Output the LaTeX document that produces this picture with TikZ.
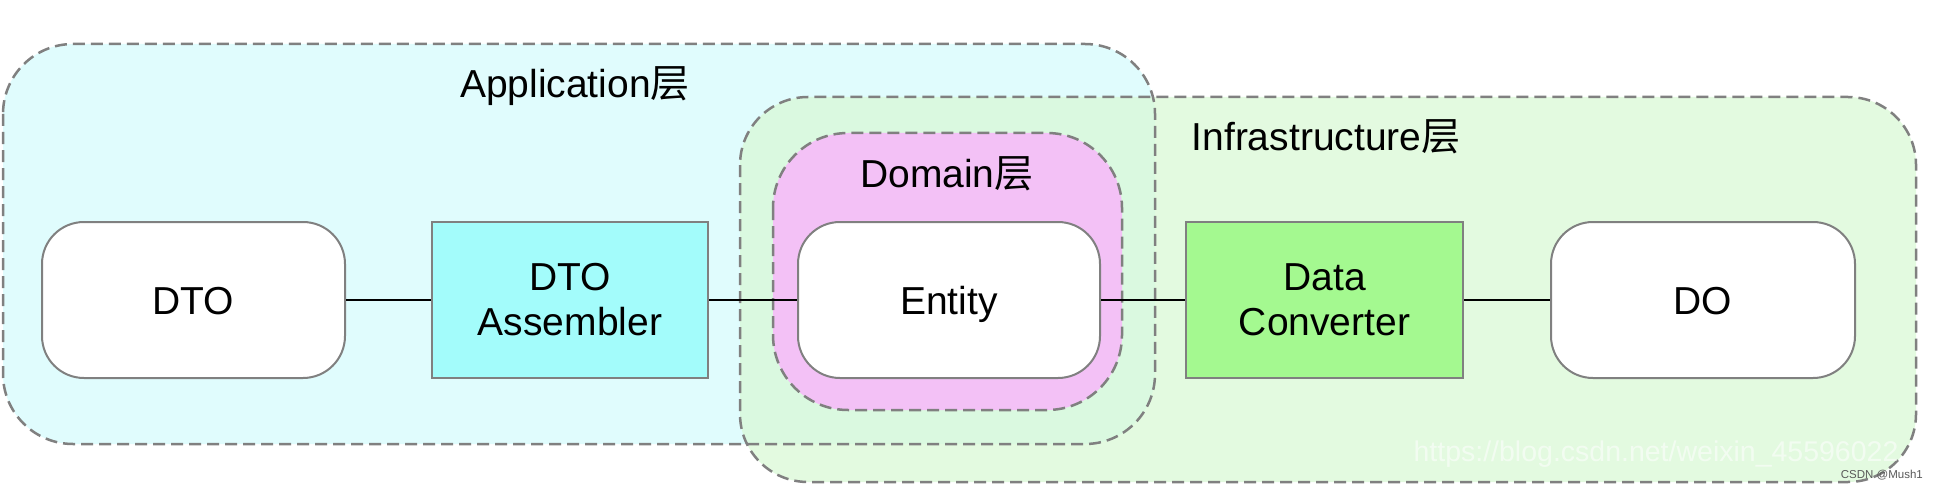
\documentclass[tikz,border=0pt]{standalone}
\usepackage{fontspec}
\setmainfont{Liberation Sans}
\newfontfamily\cjk{Noto Sans CJK SC}
\definecolor{appfill}{HTML}{E0FCFD}
\definecolor{infrafill}{HTML}{D8F9D4}
\definecolor{domfill}{HTML}{F3C1F6}
\definecolor{asmfill}{HTML}{A3FCFB}
\definecolor{convfill}{HTML}{A4F990}
\definecolor{bordergray}{HTML}{808080}
\begin{document}
\begin{tikzpicture}[x=1pt,y=-1pt,
  layer/.style={draw=bordergray, line width=2.5pt, dash pattern=on 12pt off 6pt},
  item/.style={draw=bordergray, line width=2pt, minimum height=156pt, align=center, font=\fontsize{39}{45}\selectfont, inner sep=0pt},
  rounditem/.style={item, rounded corners=42pt, fill=white, minimum width=303pt, text depth=0pt, text height=28pt},
  squareitem/.style={item, minimum width=276pt},
  lbl/.style={font=\fontsize{39}{45}\selectfont, anchor=base, inner sep=0pt},
  link/.style={line width=2pt, black}
]
\useasboundingbox (0,0) rectangle (1940,484);
\fill[white] (0,0) rectangle (1940,484);
% layer fills
\fill[appfill, rounded corners=70pt] (3,44) rectangle (1155,444);
\fill[infrafill, fill opacity=0.7, rounded corners=68pt] (740,97) rectangle (1916,482);
% layer borders
\draw[layer, rounded corners=70pt] (3,44) rectangle (1155,444);
\draw[layer, rounded corners=68pt] (740,97) rectangle (1916,482);
% domain layer
\draw[layer, fill=domfill, rounded corners=75pt] (773,133) rectangle (1122,410);
% labels
\node[lbl] (applbl) at (575,98) {Application{\cjk 层}};
\node[lbl] (infralbl) at (1326,150) {Infrastructure{\cjk 层}};
\node[lbl] (domlbl) at (947,187) {Domain{\cjk 层}};
% items
\node[rounditem] (dto) at (193.5,300) {DTO};
\node[squareitem, fill=asmfill] (asm) at (570,300) {DTO\\Assembler};
\node[rounditem, minimum width=302pt] (entity) at (949,300) {Entity};
\node[squareitem, fill=convfill, minimum width=277pt] (conv) at (1324.5,300) {Data\\Converter};
\node[rounditem, minimum width=304pt] (do) at (1703,300) {DO};
% links
\draw[link] (dto) -- (asm);
\draw[link] (asm) -- (entity);
\draw[link] (entity) -- (conv);
\draw[link] (conv) -- (do);
% watermark
\node[font=\fontsize{28.5}{30}\selectfont, text=white, text opacity=0.55, anchor=base, inner sep=0pt] (wm) at (1656,461) {https://blog.csdn.net/weixin\_45596022};
\node[font=\fontsize{11.5}{13}\selectfont, text=black!65, anchor=base east, inner sep=0pt] (csdn) at (1923,478) {CSDN @Mush1};
\end{tikzpicture}
\end{document}
